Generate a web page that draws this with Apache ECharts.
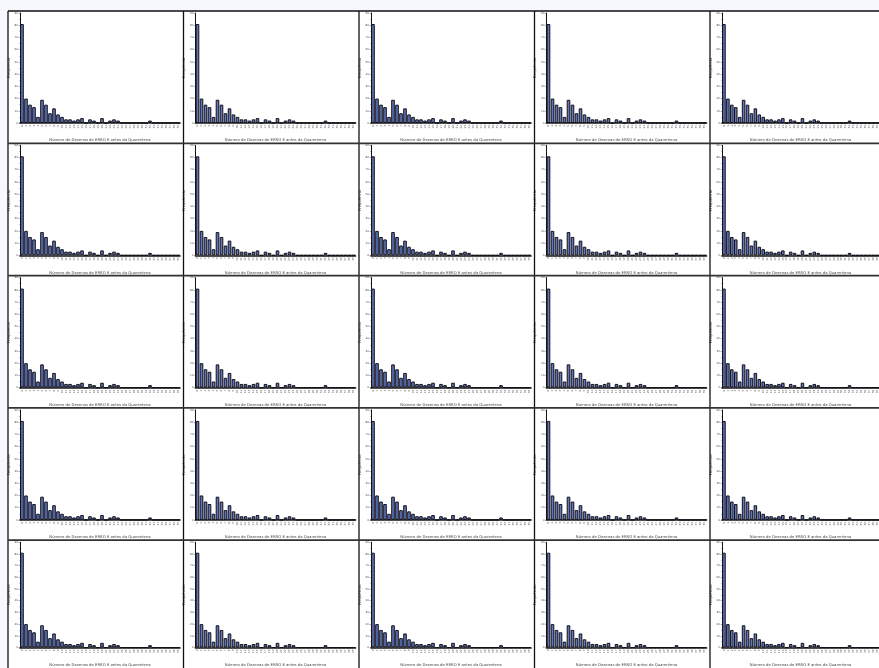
<!DOCTYPE html>
<html>
<head>
<meta charset="utf-8">
<script src="https://cdn.jsdelivr.net/npm/echarts@6/dist/echarts.min.js"></script>
<style>
  html, body { margin: 0; padding: 0; background: #f6f8fd; }
  #chart { width: 879px; height: 668px; }
</style>
</head>
<body>
<div id="chart"></div>
<script>
// Histogram categories: number of occurrences before the quarantine
const categories = [];
for (let i = 0; i < 40; i++) categories.push(String(i));

// Frequency of each category
const frequencies = [81, 20, 15, 13, 5, 19, 15, 8, 12, 7,
                     5, 3, 3, 2, 3, 4, 0, 3, 2, 0,
                     4, 0, 2, 3, 2, 0, 0, 0, 0, 0,
                     0, 0, 2, 0, 0, 0, 0, 0, 0, 0];

// Y axis range and step
const yMin = 0;
const yMax = 90;
const yStep = 10;

const xTitle = 'Número de Dezenas de ERRO E antes da Quarentena';
const yTitle = 'Frequência';

// Panel layout: 5 x 5 small multiples
const nCols = 5, nRows = 5;
const originX = 8, originY = 11;
const cellW = 175.5, cellH = 132.3;

const chart = echarts.init(document.getElementById('chart'));

const grids = [], xAxes = [], yAxes = [], series = [], graphics = [];

graphics.push({
  type: 'rect', silent: true, z: -10,
  shape: { x: originX, y: originY, width: 879 - originX, height: 668 - originY },
  style: { fill: '#ffffff' }
});

let k = 0;
for (let r = 0; r < nRows; r++) {
  for (let c = 0; c < nCols; c++) {
    const cx = originX + c * cellW;
    const cy = originY + r * cellH;
    grids.push({ left: cx + 12, top: cy + 2, width: 160, height: 110, containLabel: false });
    xAxes.push({
      type: 'category', gridIndex: k, data: categories,
      name: xTitle, nameLocation: 'middle', nameGap: 15.5,
      nameTextStyle: { fontSize: 3.8, color: '#444', fontFamily: 'DejaVu Sans' },
      axisLine: { lineStyle: { color: '#111', width: 1.6 } },
      axisTick: { show: true, length: 1.5, lineStyle: { color: '#777', width: 0.5 }, alignWithLabel: true },
      axisLabel: { interval: 0, rotate: 90, fontSize: 2.8, color: '#555', margin: 2, fontFamily: 'DejaVu Sans' },
      splitLine: { show: false }
    });
    yAxes.push({
      type: 'value', gridIndex: k, min: yMin, max: yMax, interval: yStep,
      name: yTitle, nameLocation: 'middle', nameGap: 7,
      nameTextStyle: { fontSize: 3.8, color: '#444', fontFamily: 'DejaVu Sans' },
      axisLine: { show: true, lineStyle: { color: '#111', width: 1 } },
      axisTick: { show: true, length: 1.5, lineStyle: { color: '#666', width: 0.5 } },
      minorTick: { show: true, splitNumber: 2, length: 1, lineStyle: { color: '#888', width: 0.5 } },
      axisLabel: { fontSize: 2.8, color: '#555', margin: 2, fontFamily: 'DejaVu Sans' },
      splitLine: { show: false }
    });
    series.push({
      type: 'bar', xAxisIndex: k, yAxisIndex: k, data: frequencies,
      barCategoryGap: '10%', animation: false,
      itemStyle: { color: '#6175c0', borderColor: '#111118', borderWidth: 1 }
    });
    k++;
  }
}

// Cell border lines
for (let c = 0; c <= nCols; c++) {
  const x = originX + c * cellW;
  graphics.push({ type: 'line', silent: true, z: 100,
    shape: { x1: x, y1: originY, x2: x, y2: 668 },
    style: { stroke: '#111', lineWidth: 1.3 } });
}
for (let r = 0; r <= nRows; r++) {
  const y = originY + r * cellH;
  graphics.push({ type: 'line', silent: true, z: 100,
    shape: { x1: originX, y1: y, x2: 879, y2: y },
    style: { stroke: r === 0 ? '#111' : '#333', lineWidth: r === 0 ? 1.3 : 1.8 } });
}

chart.setOption({
  backgroundColor: '#f6f8fd',
  animation: false,
  grid: grids,
  xAxis: xAxes,
  yAxis: yAxes,
  series: series,
  graphic: graphics
});
</script>
</body>
</html>
